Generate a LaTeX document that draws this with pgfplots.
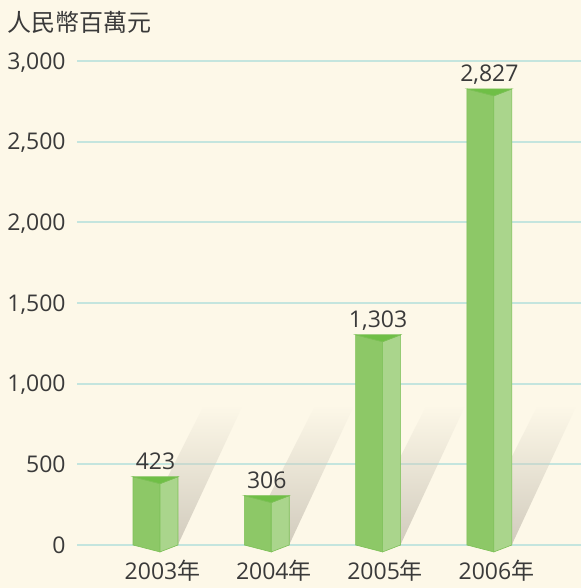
\documentclass[border=0pt]{standalone}
\usepackage{fontspec}
\setmainfont{Open Sans}
\newfontfamily\cjk{Noto Sans CJK TC}
\usepackage{pgfplots}
\pgfplotsset{compat=1.18}
\usetikzlibrary{fadings}
\definecolor{bg}{HTML}{FDF8E8}
\definecolor{gridc}{HTML}{C4E5DE}
\definecolor{darkface}{HTML}{8DC867}
\definecolor{lightface}{HTML}{AAD58C}
\definecolor{topface}{HTML}{6FBF46}
\definecolor{edge}{HTML}{7CC056}
\definecolor{shadowc}{HTML}{D2CCBE}
\definecolor{txt}{HTML}{3A3A3A}
\begin{document}
\begin{tikzpicture}
\fill[bg] (-38.5pt,-21.5pt) rectangle (252pt,272.5pt);
\begin{axis}[
  at={(0pt,0pt)}, anchor=south west,
  scale only axis, width=252pt, height=242pt,
  xmin=-0.7053, xmax=3.823, ymin=0, ymax=3000,
  clip=false,
  axis line style={draw=none},
  major tick length=0pt,
  ymajorgrids, grid style={color=gridc, line width=0.9pt},
  ytick={0,500,...,3000},
  xtick={0,1,2,3},
  xticklabels={2003{\cjk 年},2004{\cjk 年},2005{\cjk 年},2006{\cjk 年}},
  /pgf/number format/.cd, 1000 sep={,}, assume math mode=true, /pgfplots/.cd,
  ticklabel style={font=\fontsize{11.5}{13}\selectfont, text=txt},
  yticklabel style={anchor=base east, inner sep=0pt, xshift=-5.5pt, yshift=-4.1pt},
  xticklabel style={anchor=base, inner sep=0pt, yshift=-17.5pt, xshift=3.5pt},
]
% shadows
\addplot[draw=none, fill=shadowc, path fading=north, forget plot] coordinates {(-0.2,0) (0.2,0) (0.78,860) (0.43,860)} -- cycle;
\addplot[draw=none, fill=shadowc, path fading=north, forget plot] coordinates {(0.8,0) (1.2,0) (1.78,860) (1.43,860)} -- cycle;
\addplot[draw=none, fill=shadowc, path fading=north, forget plot] coordinates {(1.8,0) (2.2,0) (2.78,860) (2.43,860)} -- cycle;
\addplot[draw=none, fill=shadowc, path fading=north, forget plot] coordinates {(2.8,0) (3.2,0) (3.78,860) (3.43,860)} -- cycle;
% bars: dark face, light face, top
\addplot[fill=darkface, draw=edge, line width=0.3pt] coordinates {(-0.202,0) (0.04,-43) (0.04,380) (-0.202,423)} -- cycle;
\addplot[fill=lightface, draw=edge, line width=0.3pt] coordinates {(0.04,-43) (0.202,0) (0.202,423) (0.04,380)} -- cycle;
\addplot[fill=topface, draw=edge, line width=0.3pt] coordinates {(-0.202,423) (0.202,423) (0.04,380)} -- cycle;

\addplot[fill=darkface, draw=edge, line width=0.3pt] coordinates {(0.798,0) (1.04,-43) (1.04,263) (0.798,306)} -- cycle;
\addplot[fill=lightface, draw=edge, line width=0.3pt] coordinates {(1.04,-43) (1.202,0) (1.202,306) (1.04,263)} -- cycle;
\addplot[fill=topface, draw=edge, line width=0.3pt] coordinates {(0.798,306) (1.202,306) (1.04,263)} -- cycle;

\addplot[fill=darkface, draw=edge, line width=0.3pt] coordinates {(1.798,0) (2.04,-43) (2.04,1260) (1.798,1303)} -- cycle;
\addplot[fill=lightface, draw=edge, line width=0.3pt] coordinates {(2.04,-43) (2.202,0) (2.202,1303) (2.04,1260)} -- cycle;
\addplot[fill=topface, draw=edge, line width=0.3pt] coordinates {(1.798,1303) (2.202,1303) (2.04,1260)} -- cycle;

\addplot[fill=darkface, draw=edge, line width=0.3pt] coordinates {(2.798,0) (3.04,-43) (3.04,2784) (2.798,2827)} -- cycle;
\addplot[fill=lightface, draw=edge, line width=0.3pt] coordinates {(3.04,-43) (3.202,0) (3.202,2827) (3.04,2784)} -- cycle;
\addplot[fill=topface, draw=edge, line width=0.3pt] coordinates {(2.798,2827) (3.202,2827) (3.04,2784)} -- cycle;
% value labels
\addplot[draw=none, mark=none, point meta=y, nodes near coords,
  nodes near coords style={anchor=base, inner sep=0pt, yshift=3.5pt, font=\fontsize{11.5}{13}\selectfont, text=txt,
  /pgf/number format/.cd, 1000 sep={,}, assume math mode=true}]
  coordinates {(0,423) (1,306) (2,1303) (3,2827)};
\end{axis}
\node[anchor=west, inner sep=0pt, text=txt, font=\cjk\fontsize{12}{14}\selectfont] at (-35pt,261.25pt) {人民幣百萬元};
\pgfresetboundingbox
\path (-38.5pt,-21.5pt) rectangle (252pt,272.5pt);
\end{tikzpicture}
\end{document}
